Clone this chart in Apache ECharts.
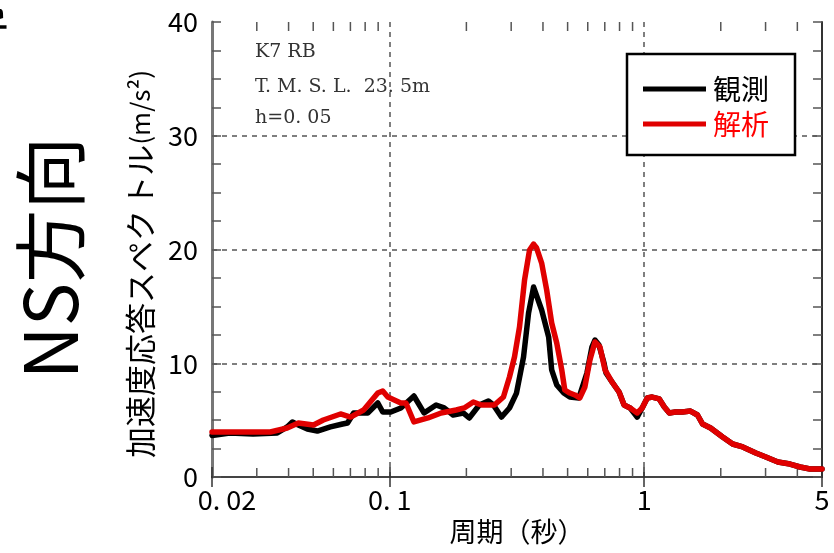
<!DOCTYPE html>
<html><head><meta charset="utf-8">
<script src="https://cdn.jsdelivr.net/npm/echarts@6/dist/echarts.min.js"></script>
<style>html,body{margin:0;padding:0;background:#fff}#c{width:834px;height:553px}</style>
</head><body><div id="c"></div>
<script>
// ---- data ----
var obsPeriod = [0.020,0.0235,0.029,0.0361,0.0395,0.0414,0.0437,0.0474,0.0519,0.0584,0.0652,0.0682,0.0721,0.0819,0.0897,0.0938,0.1009,0.1105,0.1244,0.1363,0.152,0.1635,0.1774,0.1943,0.2052,0.2248,0.244,0.2554,0.2746,0.2954,0.3148,0.3355,0.3511,0.3675,0.3742,0.3953,0.4212,0.4329,0.4531,0.4829,0.510,0.5536,0.5954,0.6231,0.6403,0.6641,0.695,0.7078,0.7475,0.7966,0.8337,0.8805,0.9383,0.982,1.028,1.075,1.146,1.200,1.256,1.326,1.413,1.520,1.620,1.696,1.824,2.034,2.227,2.44,2.747,3.008,3.355,3.742,4.10,4.489,5.0];
var obsValue  = [3.65,3.87,3.78,3.87,4.40,4.84,4.57,4.22,4.04,4.40,4.66,4.75,5.63,5.63,6.51,5.71,5.71,6.07,7.12,5.63,6.33,6.07,5.45,5.63,5.19,6.33,6.68,6.33,5.27,6.07,7.38,10.55,14.42,16.70,16.62,14.68,12.31,9.41,8.09,7.38,7.03,6.95,9.14,11.43,12.04,11.60,10.02,9.14,8.35,7.47,6.33,6.07,5.27,6.07,6.95,7.03,6.86,6.15,5.63,5.71,5.71,5.80,5.45,4.66,4.31,3.52,2.90,2.64,2.11,1.76,1.32,1.14,0.88,0.70,0.70];
var simPeriod = [0.020,0.0339,0.0395,0.0437,0.0501,0.0548,0.0640,0.0701,0.0789,0.0897,0.0938,0.0982,0.1105,0.1157,0.1244,0.1413,0.1591,0.1823,0.1961,0.2129,0.2289,0.2577,0.2797,0.2954,0.3091,0.3235,0.3386,0.3543,0.3675,0.3777,0.3953,0.4137,0.4329,0.4531,0.4742,0.4873,0.510,0.5338,0.5585,0.5845,0.6118,0.6403,0.6702,0.7014,0.7475,0.7966,0.8337,0.8805,0.9383,0.982,1.028,1.075,1.146,1.200,1.256,1.326,1.413,1.520,1.620,1.696,1.824,2.034,2.227,2.44,2.747,3.008,3.355,3.742,4.10,4.489,5.0];
var simValue  = [3.96,3.96,4.31,4.75,4.57,5.01,5.54,5.27,5.89,7.38,7.56,7.03,6.51,6.51,4.84,5.19,5.63,5.89,6.07,6.59,6.33,6.33,7.03,8.79,10.55,13.19,17.32,19.96,20.48,20.13,18.81,16.44,13.54,11.78,9.41,7.65,7.38,7.21,6.95,7.91,10.29,11.87,11.43,9.41,8.35,7.47,6.33,6.07,5.63,6.07,6.95,7.03,6.86,6.15,5.63,5.71,5.71,5.80,5.45,4.66,4.31,3.52,2.90,2.64,2.11,1.76,1.32,1.14,0.88,0.70,0.70];
var xMinorTicks = [0.03,0.04,0.05,0.06,0.07,0.08,0.09,0.2,0.3,0.4,0.5,0.6,0.7,0.8,0.9,2,3,4];
var seriesNames = ['観測','解析'];
var annotations = ['K7 RB','T. M. S. L.  23. 5m','h=0. 05'];

function pairs(xs, ys){ return xs.map(function(x,i){ return [x, ys[i]]; }); }

var chart = echarts.init(document.getElementById('c'), null, {renderer:'canvas'});
var JP = '"Noto Sans CJK JP", "Noto Sans", sans-serif';
var SERIF = '"DejaVu Serif", "Liberation Serif", serif';
var dashGrid = {show:true, showMinLine:false, showMaxLine:false, lineStyle:{color:'#555', width:1.5, type:[5,5]}};

chart.setOption({
  animation:false,
  grid:{left:212, right:12, top:22, bottom:76},
  legend:{
    orient:'vertical', left:627, top:54,
    backgroundColor:'#fff', borderColor:'#000', borderWidth:2.5,
    padding:[21,26,17,16], itemGap:7, itemWidth:63, itemHeight:5,
    icon:'rect',
    textStyle:{fontFamily:JP, fontSize:28, padding:[0,0,0,2]},
    data:[{name:seriesNames[0], textStyle:{color:'#000'}}, {name:seriesNames[1], textStyle:{color:'#f00'}}]
  },
  xAxis:[{
    type:'log', logBase:10, min:0.02, max:5, position:'bottom',
    axisLine:{lineStyle:{color:'#111', width:2}},
    axisTick:{inside:true, length:10, lineStyle:{color:'#333', width:1.5}},
    axisLabel:{margin:9, fontFamily:JP, fontSize:27, color:'#000',
      formatter:function(v){ var s=String(+v.toPrecision(3)).replace('.', '. '); return Math.abs(v-0.02)<1e-9 ? '{m|'+s+'}' : s; },
      rich:{m:{fontFamily:JP, fontSize:27, color:'#000', padding:[0,0,0,30]}}},
    splitLine:dashGrid,
    name:'周期（秒）', nameLocation:'middle', nameGap:41,
    nameTextStyle:{fontFamily:JP, fontSize:27, color:'#000'}
  },{
    type:'log', logBase:10, min:0.02, max:5, position:'top',
    axisLine:{lineStyle:{color:'#555', width:1.5}},
    axisTick:{inside:true, length:10, lineStyle:{color:'#333', width:1.5}},
    axisLabel:{show:false}, splitLine:{show:false}
  }],
  yAxis:[{
    type:'value', min:0, max:40, interval:10, position:'left',
    axisLine:{show:true, lineStyle:{color:'#777', width:3}},
    axisTick:{inside:true, length:9, lineStyle:{color:'#555', width:1.5}},
    minorTick:{show:true, splitNumber:4, length:9, lineStyle:{color:'#555', width:1.5}},
    axisLabel:{margin:14, fontFamily:JP, fontSize:27, color:'#000'},
    splitLine:dashGrid
  },{
    type:'value', min:0, max:40, interval:10, position:'right',
    axisLine:{show:true, lineStyle:{color:'#333', width:2}},
    axisTick:{inside:true, length:9, lineStyle:{color:'#555', width:1.5}},
    minorTick:{show:true, splitNumber:4, length:9, lineStyle:{color:'#555', width:1.5}},
    axisLabel:{show:false}, splitLine:{show:false}
  }],
  graphic:[
    {type:'text', x:50, y:258, rotation:Math.PI/2, style:{text:'NS方向', font:'73px '+JP, fill:'#000', align:'center', verticalAlign:'middle'}},
    {type:'text', x:140, y:264, rotation:Math.PI/2, style:{text:'{a|加速度応答スペク}{g| }{a|トル}{b|(m/s²)}', align:'center', verticalAlign:'middle',
      rich:{a:{fontFamily:JP, fontSize:31, fill:'#000', color:'#000'}, g:{fontSize:12}, b:{fontFamily:JP, fontSize:26, fill:'#000', color:'#000'}}}},
    {type:'text', x:-14, y:24, rotation:Math.PI/2, style:{text:'令', font:'44px '+JP, fill:'#000', align:'center', verticalAlign:'middle'}},
    {type:'text', x:255, y:52, style:{text:annotations[0], font:'19px '+SERIF, fill:'#333', verticalAlign:'middle'}},
    {type:'text', x:255, y:87, style:{text:annotations[1], font:'19px '+SERIF, fill:'#333', verticalAlign:'middle'}},
    {type:'text', x:255, y:118, style:{text:annotations[2], font:'19px '+SERIF, fill:'#333', verticalAlign:'middle'}}
  ],
  series:[
    {type:'custom', silent:true, xAxisIndex:0, yAxisIndex:0, data:xMinorTicks.map(function(t){return [t];}),
      renderItem:function(params, api){
        var b = api.coord([api.value(0), 0]), t = api.coord([api.value(0), 40]);
        var st = {stroke:'#555', lineWidth:1.5};
        return {type:'group', children:[
          {type:'line', shape:{x1:b[0], y1:b[1], x2:b[0], y2:b[1]-9}, style:st},
          {type:'line', shape:{x1:t[0], y1:t[1], x2:t[0], y2:t[1]+9}, style:st}
        ]};
      }, z:1},
    {name:seriesNames[0], type:'line', data:pairs(obsPeriod, obsValue), symbol:'none', color:'#000',
      lineStyle:{color:'#000', width:5.5, cap:'round', join:'round'}, z:3},
    {name:seriesNames[1], type:'line', data:pairs(simPeriod, simValue), symbol:'none', color:'#e00000',
      lineStyle:{color:'#e00000', width:5.5, cap:'round', join:'round'}, z:4}
  ]
});
</script></body></html>
